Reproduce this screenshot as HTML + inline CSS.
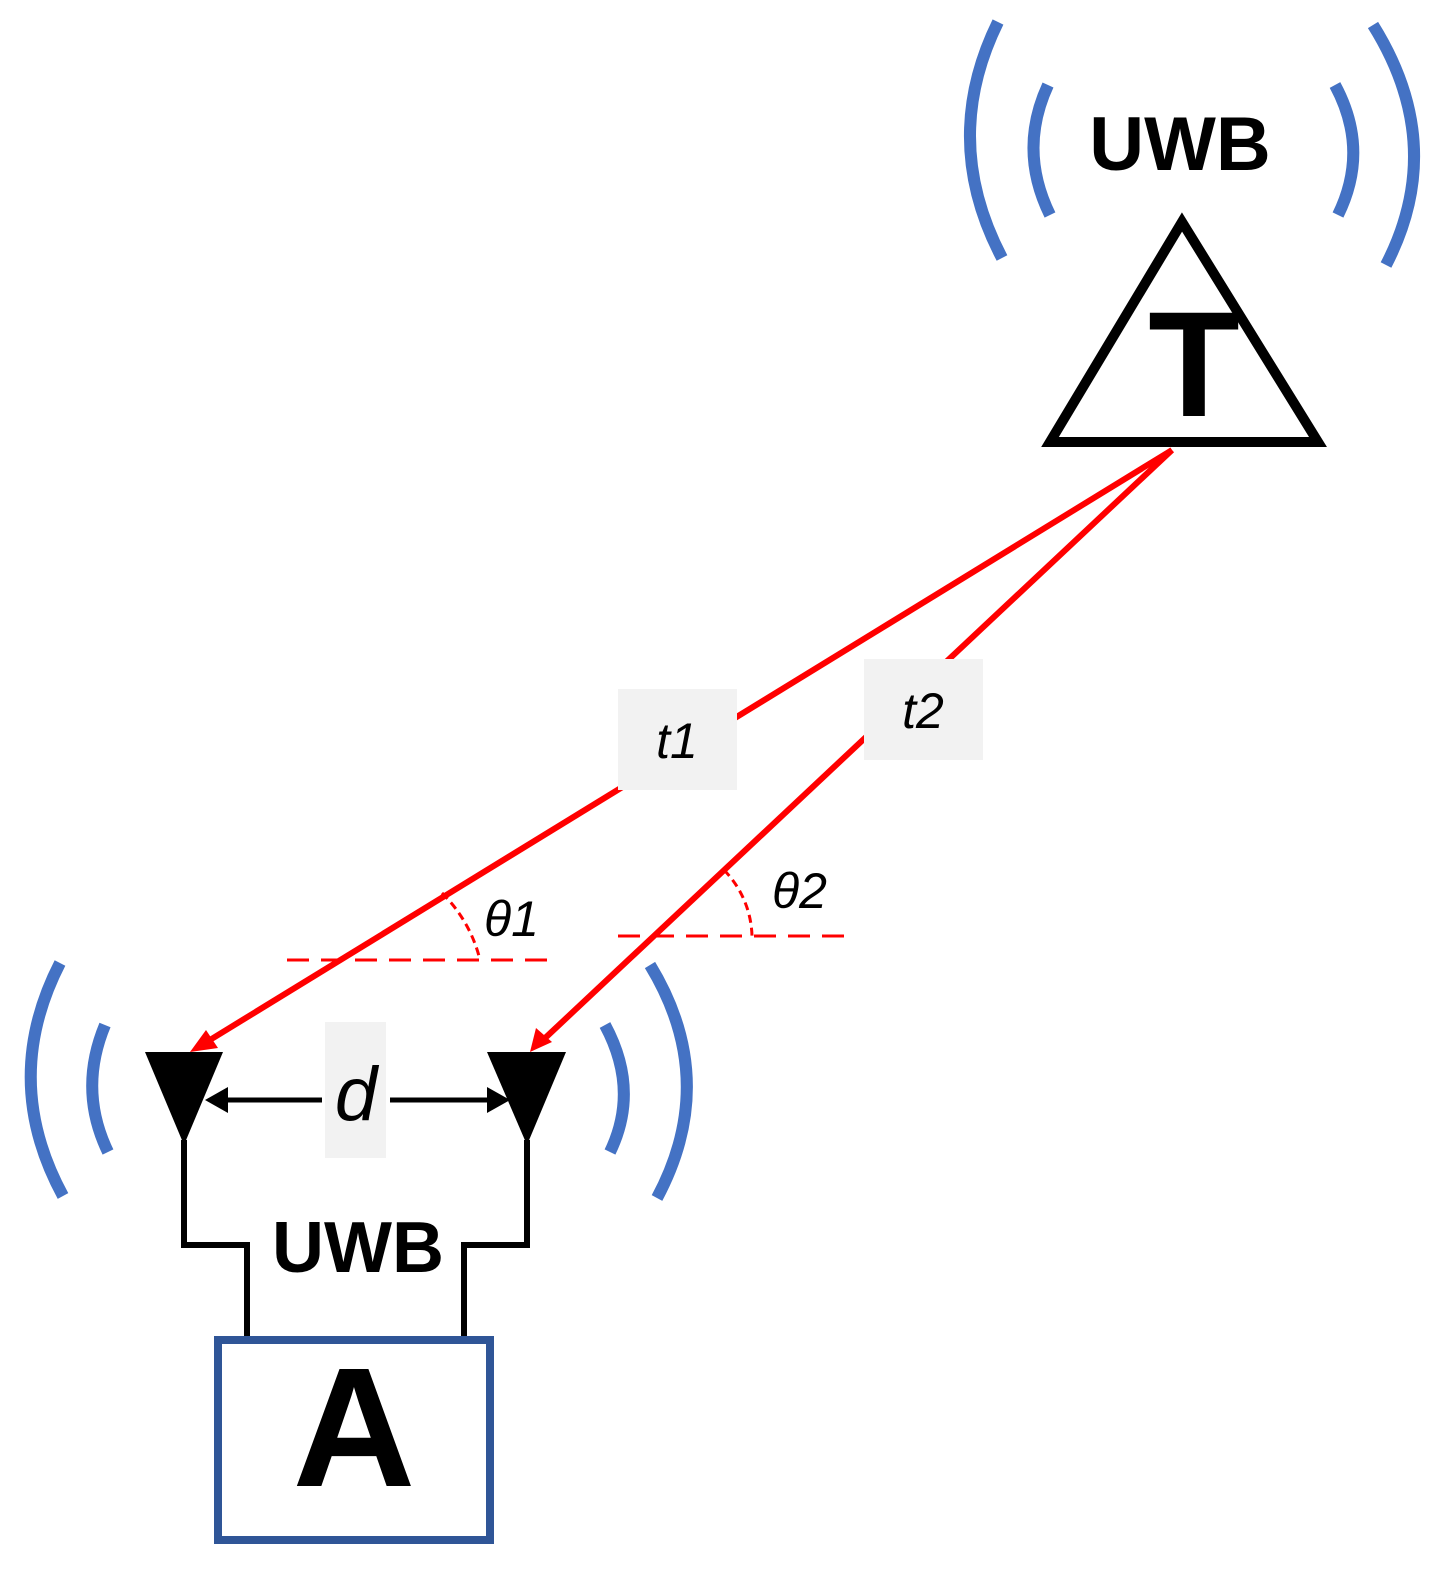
<!DOCTYPE html>
<html><head><meta charset="utf-8"><style>
html,body{margin:0;padding:0;background:#fff;}
svg{display:block;}
</style></head><body>
<svg width="1431" height="1584" viewBox="0 0 1431 1584" xmlns="http://www.w3.org/2000/svg">
<g fill="none" stroke="#4472c4" stroke-width="12">
<path d="M998,22 Q940,140 1002,258"/>
<path d="M1048,85 Q1018,150 1050,215"/>
<path d="M1373,25 Q1448,145 1386,265"/>
<path d="M1335,85 Q1370,150 1338,215"/>
<path d="M60,963 Q0,1080 63,1196"/>
<path d="M105,1025 Q78,1090 108,1152"/>
<path d="M605,1025 Q640,1090 610,1152"/>
<path d="M650,965 Q720,1080 657,1198"/>
</g>
<text x="1180" y="170" font-family="Liberation Sans, sans-serif" font-weight="bold" font-size="76" text-anchor="middle">UWB</text>
<polygon points="1182,222 1050,442 1318,442" fill="#fff" stroke="#000" stroke-width="10"/>
<text x="1194" y="416" font-family="Liberation Sans, sans-serif" font-weight="bold" font-size="150" text-anchor="middle">T</text>
<g stroke="#ff0000" stroke-width="6" fill="none">
<line x1="1172" y1="450" x2="205" y2="1043"/>
<line x1="1172" y1="450" x2="543" y2="1040"/>
</g>
<polygon points="190,1052 206,1030 218,1048" fill="#ff0000"/>
<polygon points="530,1052 536,1028 552,1042" fill="#ff0000"/>
<g stroke="#ff0000" stroke-width="3" fill="none" stroke-dasharray="22,12">
<line x1="287" y1="960" x2="555" y2="960"/>
<line x1="618" y1="936" x2="852" y2="936"/>
</g>
<g stroke="#ff0000" stroke-width="3" fill="none" stroke-dasharray="8,5">
<path d="M442,893 A140,140 0 0 1 480,960"/>
<path d="M724,870 A98,98 0 0 1 752,936"/>
</g>
<rect x="618" y="689" width="119" height="101" fill="#f2f2f2"/>
<rect x="864" y="659" width="119" height="101" fill="#f2f2f2"/>
<g font-family="Liberation Sans, sans-serif" font-style="italic" font-size="50" fill="#000">
<text x="677" y="758" text-anchor="middle">t1</text>
<text x="923" y="728" text-anchor="middle">t2</text>
<text x="484" y="936">θ1</text>
<text x="772" y="908">θ2</text>
</g>
<polygon points="145,1052 223,1052 184,1145" fill="#000"/>
<polygon points="487,1052 566,1052 527,1145" fill="#000"/>
<rect x="325" y="1022" width="61" height="136" fill="#f2f2f2"/>
<line x1="215" y1="1100" x2="322" y2="1100" stroke="#000" stroke-width="5"/>
<line x1="390" y1="1100" x2="498" y2="1100" stroke="#000" stroke-width="5"/>
<polygon points="205,1100 228,1087 228,1113" fill="#000"/>
<polygon points="510,1100 487,1087 487,1113" fill="#000"/>
<text x="356" y="1120" font-family="Liberation Sans, sans-serif" font-style="italic" font-size="76" text-anchor="middle">d</text>
<g fill="none" stroke="#000" stroke-width="6">
<polyline points="184,1140 184,1245 247,1245 247,1340"/>
<polyline points="527,1140 527,1245 464,1245 464,1340"/>
</g>
<text x="358" y="1272" font-family="Liberation Sans, sans-serif" font-weight="bold" font-size="72" text-anchor="middle">UWB</text>
<rect x="218" y="1340" width="272" height="200" fill="#fff" stroke="#2f5597" stroke-width="8"/>
<text x="354" y="1486" font-family="Liberation Sans, sans-serif" font-weight="bold" font-size="170" text-anchor="middle">A</text>
</svg>
</body></html>
